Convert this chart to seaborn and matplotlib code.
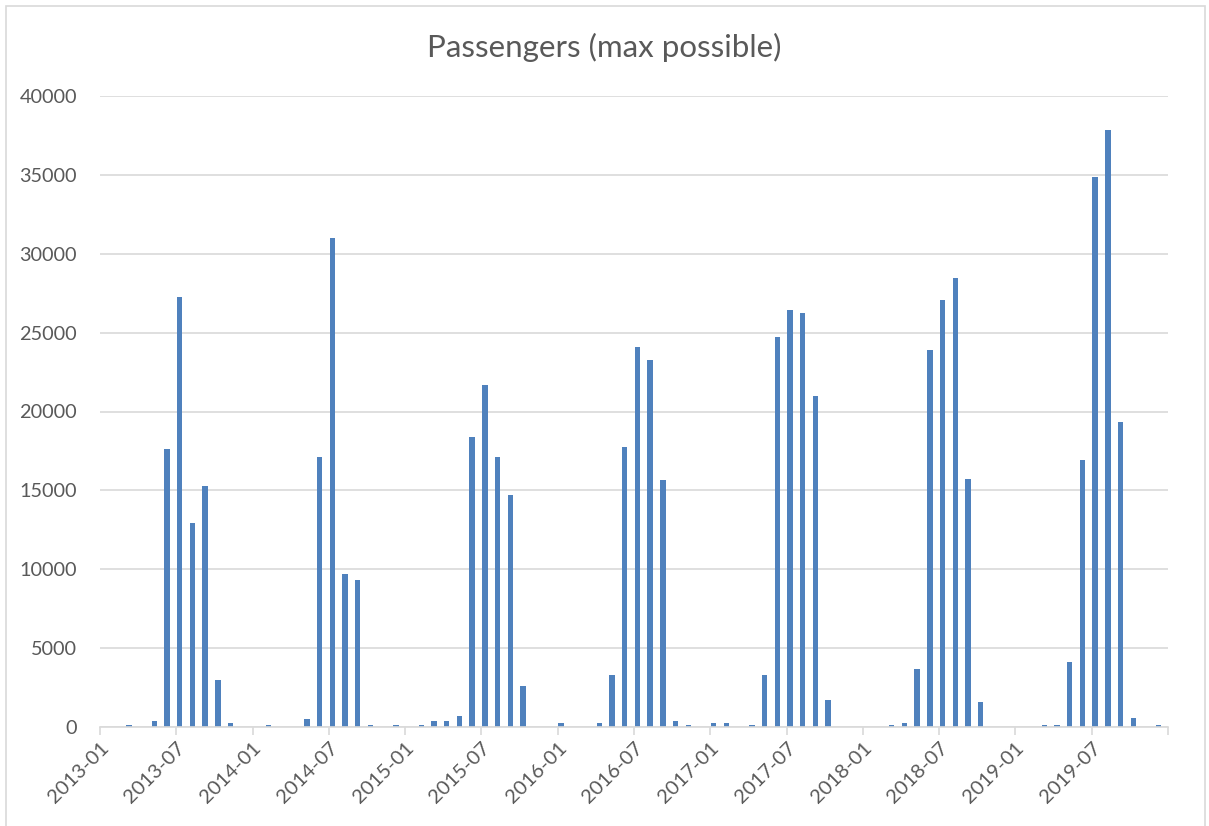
import matplotlib
matplotlib.use("Agg")
import matplotlib.pyplot as plt
import seaborn as sns
import pandas as pd
import numpy as np
from matplotlib.patches import Rectangle

# ---- data ----
months = [f"{y}-{m:02d}" for y in range(2013, 2020) for m in range(1, 13)]
passengers = [
    # 2013
    0, 0, 150, 0, 380, 17600, 27250, 12930, 15280, 2950, 280, 0,
    # 2014
    0, 150, 0, 0, 490, 17100, 31000, 9700, 9320, 150, 0, 150,
    # 2015
    0, 150, 380, 380, 720, 18380, 21680, 17100, 14700, 2600, 0, 0,
    # 2016
    250, 0, 0, 250, 3300, 17750, 24090, 23260, 15660, 380, 150, 0,
    # 2017
    250, 250, 0, 150, 3300, 24720, 26430, 26240, 20980, 1680, 0, 0,
    # 2018
    0, 0, 150, 280, 3660, 23900, 27070, 28460, 15720, 1570, 0, 0,
    # 2019
    0, 0, 150, 150, 4130, 16920, 34860, 37840, 19330, 600, 0, 150,
]
tick_labels = ["2013-01", "2013-07", "2014-01", "2014-07", "2015-01", "2015-07",
               "2016-01", "2016-07", "2017-01", "2017-07", "2018-01", "2018-07",
               "2019-01", "2019-07", ""]
y_ticks = [0, 5000, 10000, 15000, 20000, 25000, 30000, 35000, 40000]
title = "Passengers (max possible)"

df = pd.DataFrame({"month": months, "passengers": passengers})

sns.set_theme(style="white")
plt.rcParams["font.family"] = ["Lato", "DejaVu Sans"]

W, H = 1209, 826
fig = plt.figure(figsize=(W / 100, H / 100), dpi=100)
ax = fig.add_axes([100 / W, 1 - 727 / H, (1168 - 100) / W, (727 - 96) / H])

sns.barplot(data=df, x="month", y="passengers", color="#4F81BD",
            width=0.42, saturation=1, linewidth=0, ax=ax, order=months)

off = 0.27
ax.set_xlim(-off, len(months) - off)
ax.set_ylim(0, 40000)
ax.set_yticks(y_ticks)
ax.set_yticklabels([str(v) for v in y_ticks])
ax.set_xticks([-off + 6 * k for k in range(len(tick_labels))])
ax.set_xticklabels(tick_labels, rotation=45, ha="right", rotation_mode="anchor")
ax.set_xlabel("")
ax.set_ylabel("")

grid_c = "#D9D9D9"
ax.yaxis.grid(True, color=grid_c, linewidth=1.2)
ax.set_axisbelow(True)
for s in ["top", "right", "left"]:
    ax.spines[s].set_visible(False)
ax.spines["bottom"].set_color(grid_c)
ax.spines["bottom"].set_linewidth(1.2)
ax.tick_params(axis="x", which="major", length=6, width=1.2, color=grid_c,
               labelcolor="#595959", labelsize=14.5, pad=3, bottom=True)
ax.tick_params(axis="y", length=0, labelsize=14.3, labelcolor="#595959", pad=16.5)

fig.text(0.5, 1 - 47 / H, title, ha="center", va="center",
         fontsize=22.5, color="#595959")

fig.patches.append(Rectangle((6 / W, -0.01), (1205 - 6) / W, 1 - 6 / H + 0.01,
                             transform=fig.transFigure, fill=False,
                             edgecolor="#D9D9D9", linewidth=1.2))

fig.savefig("out.png", dpi=100, facecolor="white")
